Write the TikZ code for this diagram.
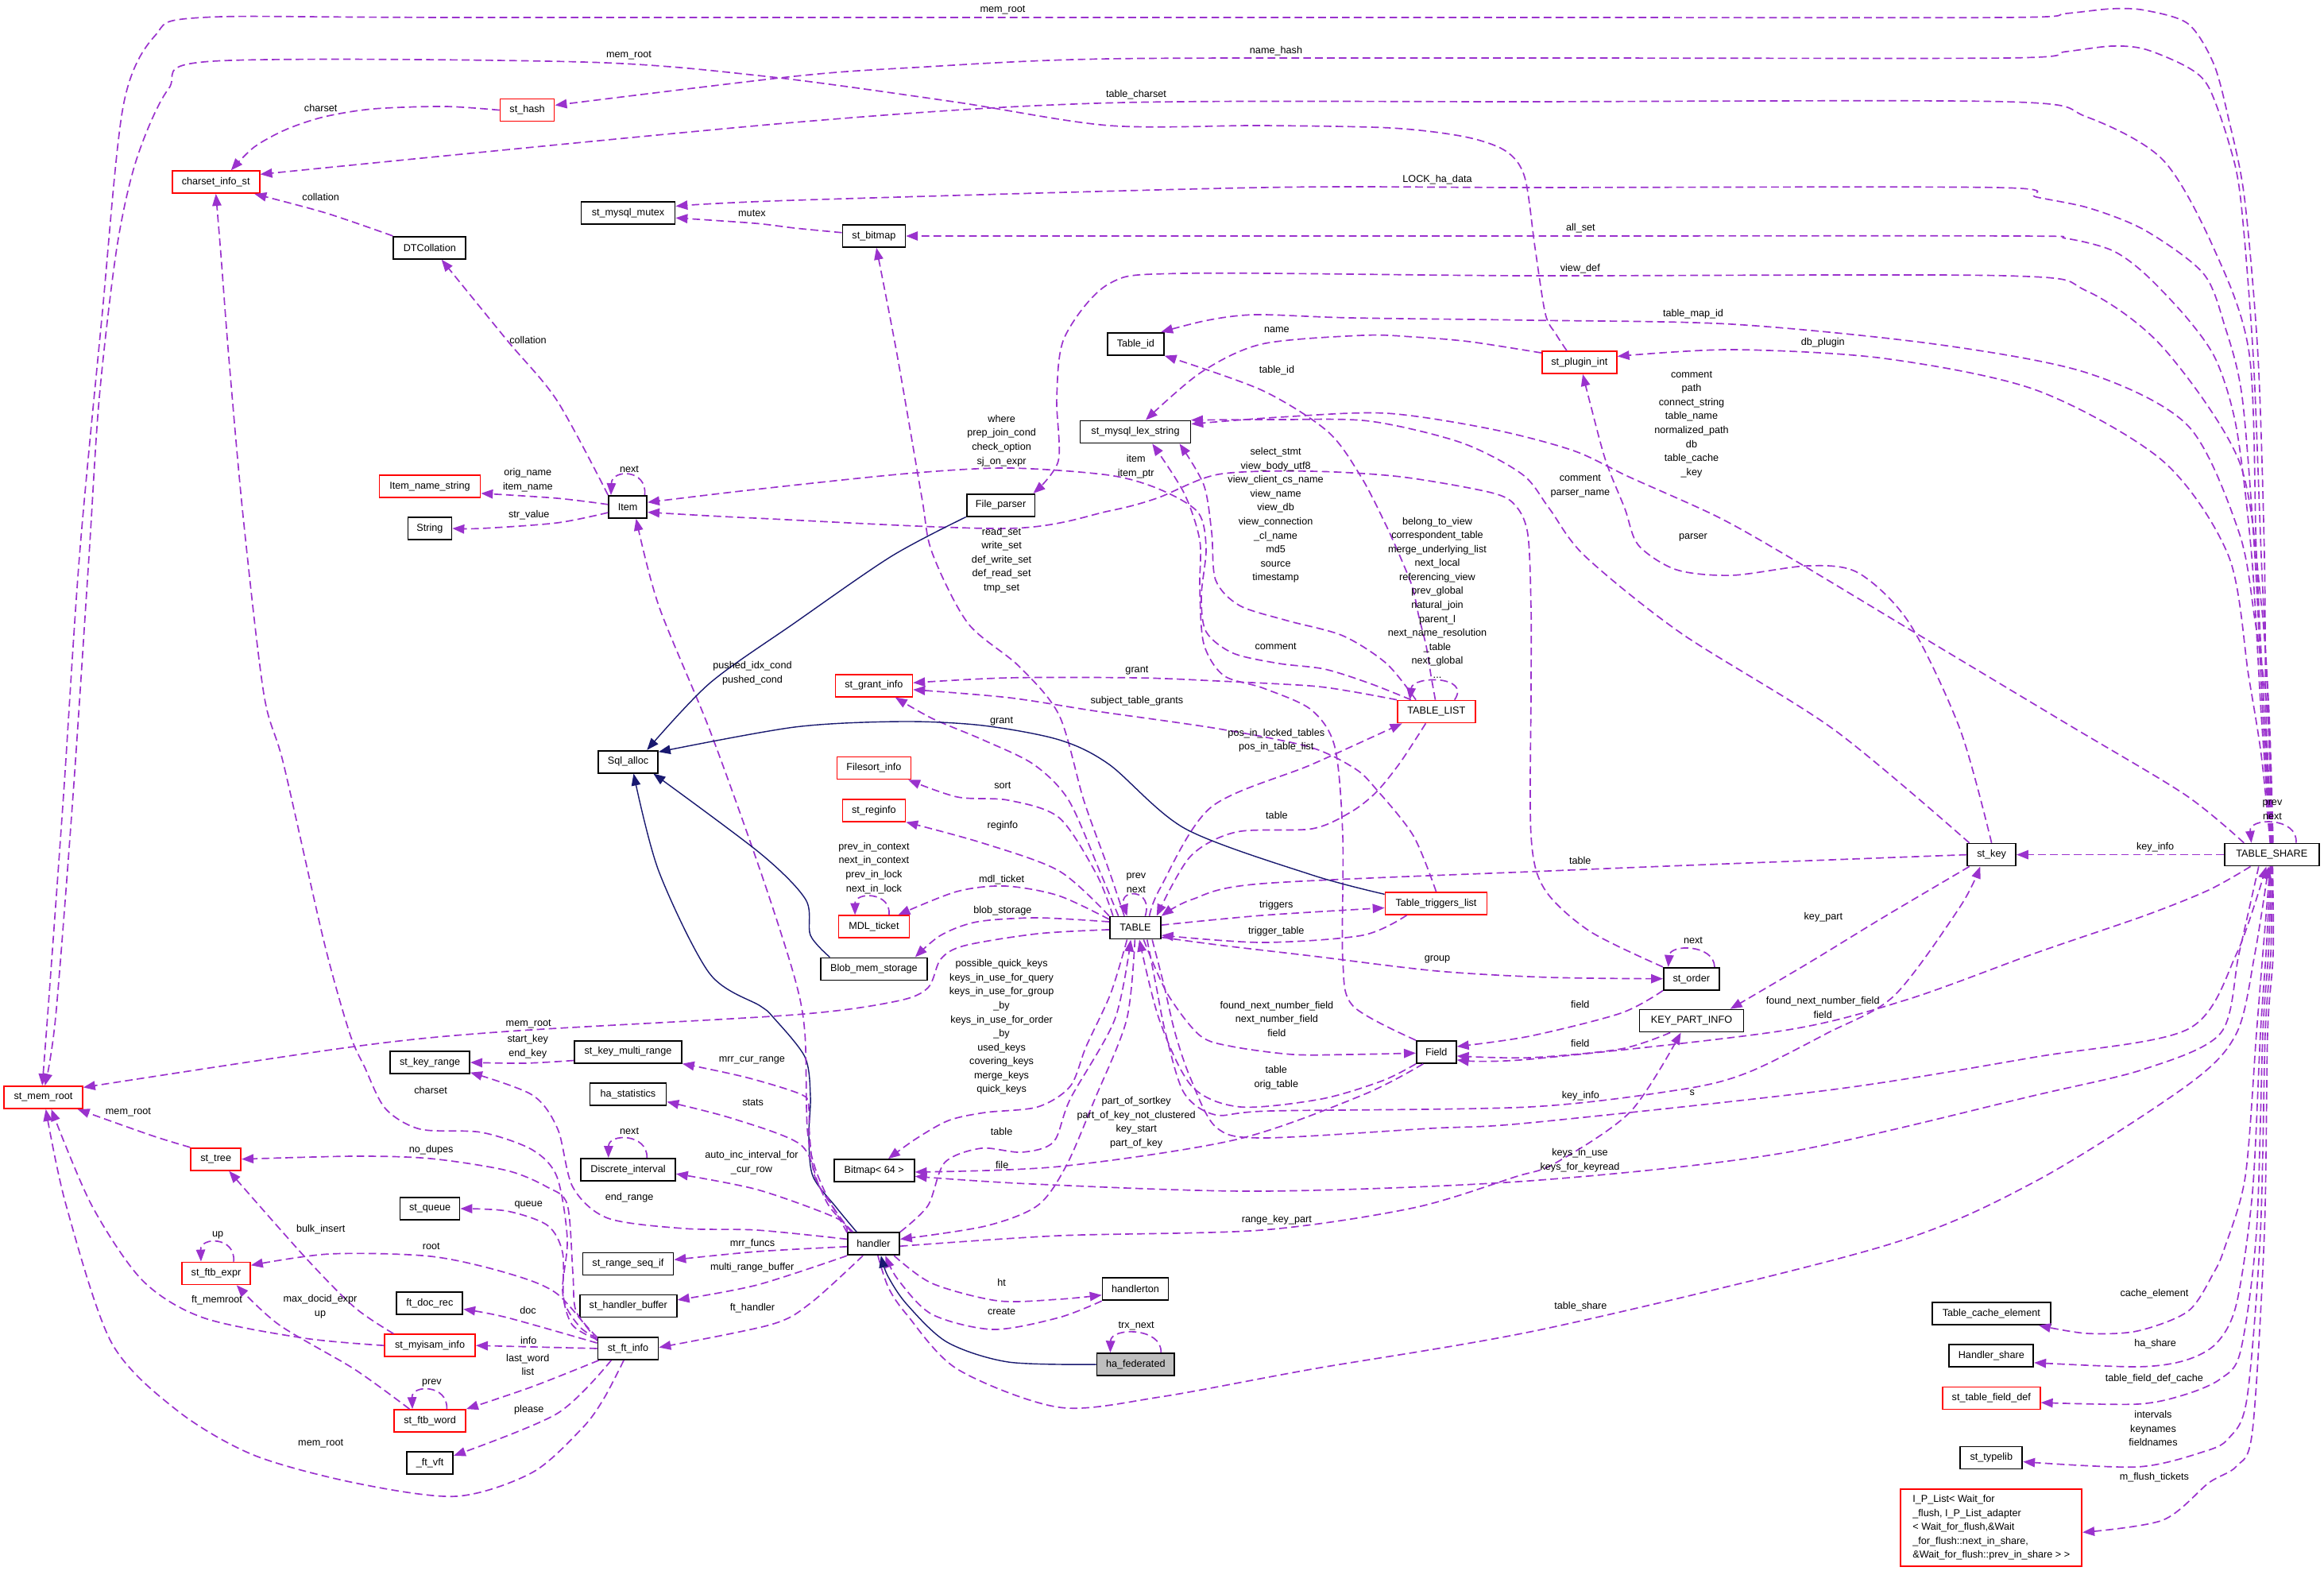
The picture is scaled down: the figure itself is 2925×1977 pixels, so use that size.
\documentclass[tikz,border=0pt]{standalone}
\usepackage{fontspec}
\setmainfont{Liberation Sans}
\usetikzlibrary{arrows.meta}
\definecolor{ep}{HTML}{9A32CD}
\definecolor{nv}{HTML}{191970}
\definecolor{rd}{HTML}{FF0000}
\definecolor{gf}{HTML}{BFBFBF}
\begin{document}
\begin{tikzpicture}[x=0.02cm,y=-0.02cm,font=\fontsize{7.2}{10}\selectfont,
nb/.style={draw=black,line width=1pt,minimum height=0.56cm,inner xsep=2pt,inner ysep=0pt,fill=white},
nr/.style={nb,draw=rd},
lb/.style={inner sep=0pt,align=center},
e/.style={draw=ep,line width=0.95pt,dash pattern=on 5.5pt off 3pt,-{Triangle[length=8.5pt,width=6.5pt]}},
inh/.style={draw=nv,line width=0.8pt,-{Triangle[length=8.5pt,width=6.5pt]}}]
\fill[white] (0,0) rectangle (2925,1977);
\useasboundingbox (0,0) rectangle (2925,1977);
% nodes
\node[nr,minimum width=1.36cm] (hash) at (663.6,138.6) {st\_hash};
\node[nr,minimum width=2.2cm] (charset) at (271.7,229.2) {charset\_info\_st};
\node[nb,minimum width=2.36cm] (mutex) at (790.5,267.9) {st\_mysql\_mutex};
\node[nb,minimum width=1.82cm] (dtc) at (540.8,311.8) {DTCollation};
\node[nb,minimum width=1.58cm] (bitmap) at (1099.9,297) {st\_bitmap};
\node[nb,minimum width=1.42cm] (tid) at (1429.3,432.8) {Table\_id};
\node[nr,minimum width=1.88cm] (plugin) at (1987.8,456) {st\_plugin\_int};
\node[nb,minimum width=2.78cm] (lex) at (1429,543.5) {st\_mysql\_lex\_string};
\node[nr,minimum width=2.54cm] (ins) at (541,611.8) {Item\_name\_string};
\node[nb,minimum width=0.96cm] (item) at (790.2,637.9) {Item};
\node[nb,minimum width=1.1cm] (str) at (541,665) {String};
\node[nb,minimum width=1.72cm] (fparser) at (1259.6,635.7) {File\_parser};
\node[nr,minimum width=1.94cm] (grant) at (1099.9,862.7) {st\_grant\_info};
\node[nr,minimum width=1.96cm] (tlist) at (1807.8,895.5) {TABLE\_LIST};
\node[nb,minimum width=1.5cm] (sqla) at (790.5,958.7) {Sql\_alloc};
\node[nr,minimum width=1.86cm] (fsort) at (1099.9,966.5) {Filesort\_info};
\node[nr,minimum width=1.58cm] (reginfo) at (1099.9,1019.9) {st\_reginfo};
\node[nb,minimum width=1.22cm] (stkey) at (2506.6,1075.6) {st\_key};
\node[nb,minimum width=2.38cm] (tshare) at (2859.3,1075.6) {TABLE\_SHARE};
\node[nr,minimum width=1.78cm] (mdl) at (1099.9,1166.3) {MDL\_ticket};
\node[nb,minimum width=1.28cm] (table) at (1428.9,1167.6) {TABLE};
\node[nr,minimum width=2.56cm] (ttl) at (1807.5,1136.8) {Table\_triggers\_list};
\node[nb,minimum width=2.68cm] (blob) at (1099.9,1219.4) {Blob\_mem\_storage};
\node[nb,minimum width=1.4cm] (order) at (2128.8,1231.7) {st\_order};
\node[nb,minimum width=2.62cm] (kpi) at (2129,1284.6) {KEY\_PART\_INFO};
\node[nb,minimum width=1.0cm] (field) at (1807.8,1323.9) {Field};
\node[nb,minimum width=2.7cm] (kmr) at (790.5,1323.7) {st\_key\_multi\_range};
\node[nb,minimum width=2.0cm] (kr) at (541.1,1337) {st\_key\_range};
\node[nr,minimum width=1.98cm] (memroot) at (54.5,1381) {st\_mem\_root};
\node[nb,minimum width=1.92cm] (hastat) at (790.5,1377) {ha\_statistics};
\node[nr,minimum width=1.26cm] (tree) at (271.7,1458.7) {st\_tree};
\node[nb,minimum width=2.38cm] (dint) at (790.5,1471.9) {Discrete\_interval};
\node[nb,minimum width=2.02cm] (bm64) at (1100.2,1473.1) {Bitmap< 64 >};
\node[nb,minimum width=1.5cm] (queue) at (541.1,1521) {st\_queue};
\node[nb,minimum width=1.3cm] (handler) at (1099.5,1565.3) {handler};
\node[nb,minimum width=2.28cm] (rsi) at (790.5,1590.4) {st\_range\_seq\_if};
\node[nr,minimum width=1.72cm] (ftbexpr) at (272,1602.4) {st\_ftb\_expr};
\node[nb,minimum width=1.66cm] (hton) at (1429,1622.3) {handlerton};
\node[nb,minimum width=1.66cm] (docrec) at (540.8,1640) {ft\_doc\_rec};
\node[nb,minimum width=2.44cm] (hbuf) at (790.8,1643.5) {st\_handler\_buffer};
\node[nr,minimum width=2.28cm] (myisam) at (541.1,1693.2) {st\_myisam\_info};
\node[nb,minimum width=1.52cm] (ftinfo) at (790.5,1697) {st\_ft\_info};
\node[nb,fill=gf,minimum width=1.95cm] (haf) at (1429.3,1717.1) {ha\_federated};
\node[nb,minimum width=2.98cm] (tce) at (2506.3,1653) {Table\_cache\_element};
\node[nb,minimum width=2.12cm] (hsh) at (2506.3,1706.3) {Handler\_share};
\node[nr,minimum width=2.46cm] (tfd) at (2506.3,1759.6) {st\_table\_field\_def};
\node[nr,minimum width=1.8cm] (ftbword) at (541.1,1788) {st\_ftb\_word};
\node[nb,minimum width=1.56cm] (typelib) at (2506.3,1834.6) {st\_typelib};
\node[nb,minimum width=1.16cm] (ftvft) at (541.1,1841) {\_ft\_vft};
\node[nr,minimum width=4.56cm,minimum height=1.94cm,align=left,inner xsep=0.2cm] (iplist) at (2506.3,1922.3) {I\_P\_List< Wait\_for\\\_flush, I\_P\_List\_adapter\\< Wait\_for\_flush,\&Wait\\\_for\_flush::next\_in\_share,\\\&Wait\_for\_flush::prev\_in\_share > >};
% TABLE_SHARE top edges
\draw[e] plot[smooth,tension=0.5] coordinates {(tshare.88) (2852,900) (2850,700) (2842,450) (2825,250) (2805,150) (2786,80) (2754,30) (2700,13) (2658,11) (2600,17) (2524,22) (1925,22) (600,22) (255,22) (195,45) (155,134) (128,402) (100,700) (80,1000) (62,1250) (memroot.95)};
\draw[e] plot[smooth,tension=0.5] coordinates {(plugin.137) (1958,420) (1945,395) (1932,312) (1919,223) (1895,190) (1843,172) (1750,161) (1588,158) (1396,158) (1200,128) (963,96) (733,78) (268,77) (212,112) (172,200) (147,312) (125,500) (112,700) (92,1000) (70,1280) (memroot.82)};
\draw[e] plot[smooth,tension=0.5] coordinates {(tshare.90) (2855,900) (2846,700) (2836,450) (2820,250) (2805,179) (2780,110) (2754,85) (2700,62) (2658,58) (2600,65) (2524,73) (1925,73) (1396,74) (1150,85) (1000,96) (hash.10)};
\draw[e] plot[smooth,tension=0.5] coordinates {(tshare.92) (2850,900) (2840,700) (2831,446) (2786,312) (2722,201) (2626,147) (2524,128) (1925,128) (1396,129.5) (1000,154) (charset.10)};
\draw[e] plot[smooth,tension=0.5] coordinates {(tshare.94) (2848,900) (2838,700) (2822,500) (2800,410) (2773,344) (2700,290) (2630,262) (2563,248) (2512,236) (1925,236) (1588,236) (1000,252) (mutex.8)};
\draw[e] plot[smooth,tension=0.5] coordinates {(tshare.96) (2846,900) (2834,700) (2815,540) (2790,455) (2754,402) (2700,345) (2658,315) (2600,300) (2537,297) (1925,297) (bitmap.east)};
\draw[e] plot[smooth,tension=0.5] coordinates {(tshare.84) (2856,900) (2845,750) (2818,580) (2722,437) (2626,366) (2524,347) (1925,347) (1492,344) (1396,357) (1340,424) (1330,500) (1332,580) (fparser.20)};
\draw[e] plot[smooth,tension=0.5] coordinates {(tshare.86) (2854,900) (2838,780) (2818,670) (2754,536) (2626,469) (2435,433) (2180,408) (1925,403) (1700,400) (1581,396) (1520,403) (tid.25)};
\draw[e] plot[smooth,tension=0.5] coordinates {(tshare.98) (2846,950) (2830,850) (2805,700) (2722,580) (2563,491) (2371,451) (2180,440) (plugin.9)};
\draw[e] plot[smooth,tension=0.5] coordinates {(tshare.157) (2750,1000) (2600,910) (2400,790) (2250,700) (2161,650) (2050,600) (1980,567) (1877,540) (1744,520) (1610,525) (lex.8)};
\draw[e] (tshare.26) .. controls (2893,1028) and (2830,1028) .. (tshare.150);
\draw[e] (tshare.west) -- (stkey.east);
% st_key and plugin
\draw[e] plot[smooth,tension=0.5] coordinates {(stkey.152) (2308,918) (2116,797) (1995,700) (1950,640) (1916,597) (1839,557) (1724,530) (1610,528) (lex.12)};
\draw[e] plot[smooth,tension=0.5] coordinates {(stkey.north) (2467,918) (2403,784) (2339,721) (2276,712) (2180,724) (2110,717) (2062,686) (2045,640) (2021,580) (2002,510) (plugin.-74)};
\draw[e] plot[smooth,tension=0.5] coordinates {(plugin.166) (1850,430) (1779,424) (1715,422) (1588,433) (1511,469) (lex.49)};
\draw[e] plot[smooth,tension=0.5] coordinates {(stkey.-152) (2371,1154) (2276,1212) (kpi.17)};
\draw[e] plot[smooth,tension=0.5] coordinates {(stkey.west) (2200,1086) (1950,1096) (1588,1112) (1500,1132) (table.north east)};
% TABLE_LIST
\draw[e] plot[smooth,tension=0.5] coordinates {(tlist.95) (1801,850) (1795,813) (1786,777) (1778,740) (1765,707) (1744,660) (1713,600) (1671,543) (1588,491) (tid.south east)};
\draw[e] (tlist.33) .. controls (1852,850) and (1778,850) .. (tlist.156);
\draw[e] plot[smooth,tension=0.5] coordinates {(tlist.155) (1724,860) (1667,842) (1610,835) (1552,822) (1518,795) (1512,750) (1518,690) (1508,645) (1460,616) (1396,598) (1269,589) (1141,596) (950,616) (item.13)};
\draw[e] plot[smooth,tension=0.5] coordinates {(tlist.150) (1745,835) (1690,800) (1620,781) (1560,762) (1530,730) (1525,670) (1515,610) (lex.-15)};
\draw[e] plot[smooth,tension=0.5] coordinates {(field.north west) (1703,1266) (1690,1208) (1690,1052) (1680,940) (1650,893) (1590,866) (1540,850) (1515,810) (1510,740) (1510,680) (1490,620) (lex.-35)};
\draw[e] plot[smooth,tension=0.5] coordinates {(tlist.north west) (1700,870) (1648,863) (1533,857) (1431,853) (1269,853) (grant.4)};
\draw[e] plot[smooth,tension=0.5] coordinates {(ttl.north) (1779,1052) (1732,993) (1705,967) (1648,940) (1533,917) (1380,895) (1270,878) (grant.-6)};
\draw[e] plot[smooth,tension=0.5] coordinates {(table.40) (1460,1118) (1524,1016) (1651,962) (tlist.-161)};
\draw[e] plot[smooth,tension=0.5] coordinates {(tlist.-132) (1762,960) (1732,997) (1700,1022) (1651,1043) (1556,1047) (1498,1078) (table.29)};
% TABLE right
\draw[e] plot[smooth,tension=0.5] coordinates {(table.6) (1588,1152) (ttl.185)};
\draw[e] plot[smooth,tension=0.5] coordinates {(ttl.-158) (1715,1177) (1588,1186) (table.-16)};
\draw[e] plot[smooth,tension=0.5] coordinates {(table.-20) (1540,1190) (1651,1203) (1809,1222) (1950,1230) (order.west)};
\draw[e] (order.27) .. controls (2157,1188) and (2102,1188) .. (order.153);
\draw[e] plot[smooth,tension=0.5] coordinates {(order.north west) (2001,1172) (1944,1119) (1927,1052) (1927,867) (1927,767) (1923,673) (1908,637) (1877,620) (1763,600) (1648,593) (1533,597) (1456,627) (1396,643) (1269,665) (950,652) (item.-15)};
\draw[e] plot[smooth,tension=0.5] coordinates {(order.south west) (2040,1275) (1925,1304) (field.15)};
\draw[e] plot[smooth,tension=0.5] coordinates {(kpi.-151) (2040,1320) (1925,1331) (field.-11)};
\draw[e] plot[smooth,tension=0.5] coordinates {(tshare.-151) (2780,1120) (2700,1152) (2563,1199) (2400,1258) (2244,1297) (1925,1333) (field.-21)};
\draw[e] plot[smooth,tension=0.5] coordinates {(table.-55) (1469,1250) (1510,1303) (1551,1317) (1627,1327) (1700,1327) (field.183)};
\draw[e] plot[smooth,tension=0.5] coordinates {(field.-150) (1740,1360) (1663,1383) (1561,1393) (1500,1367) (1459,1283) (table.-71)};
\draw[e] plot[smooth,tension=0.5] coordinates {(field.-138) (1715,1378) (1556,1434) (1333,1468) (bm64.-2)};
\draw[e] plot[smooth,tension=0.5] coordinates {(table.-45) (1455,1240) (1467,1300) (1490,1375) (1530,1403) (1600,1398) (1925,1393) (2116,1371) (2199,1350) (2300,1300) (2384,1253) (2467,1141) (stkey.-134)};
\draw[e] plot[smooth,tension=0.5] coordinates {(table.-35) (1465,1240) (1479,1300) (1498,1356) (1530,1418) (1588,1432) (1800,1420) (1925,1413) (2308,1371) (2563,1330) (2754,1295) (2815,1200) (tshare.-115)};
\draw[e] plot[smooth,tension=0.5] coordinates {(tshare.-138) (2818,1200) (2795,1300) (2700,1345) (2563,1378) (2244,1451) (1925,1486) (1588,1499) (1300,1490) (bm64.-8)};
\draw[e] plot[smooth,tension=0.5] coordinates {(handler.-70) (1118,1620) (1141,1654) (1205,1723) (1333,1771) (1460,1758) (1651,1723) (1950,1671) (2371,1568) (2563,1486) (2754,1365) (2815,1300) (2838,1200) (tshare.-105)};
\draw[e] plot[smooth,tension=0.5] coordinates {(handler.-5) (1333,1555) (1588,1548) (1779,1520) (1907,1481) (1957,1464) (2052,1399) (kpi.-132)};
% TABLE_SHARE bottom right column
\draw[e] plot[smooth,tension=0.5] coordinates {(tshare.-98) (2848,1200) (2840,1300) (2826,1480) (2800,1570) (2786,1602) (2754,1650) (2690,1675) (2626,1678) (tce.-14)};
\draw[e] plot[smooth,tension=0.5] coordinates {(tshare.-95) (2852,1200) (2845,1300) (2835,1500) (2815,1640) (2790,1690) (2750,1712) (2690,1720) (hsh.-9)};
\draw[e] plot[smooth,tension=0.5] coordinates {(tshare.-92) (2855,1200) (2848,1300) (2840,1550) (2820,1700) (2795,1735) (2750,1755) (2690,1767) (tfd.-5)};
\draw[e] plot[smooth,tension=0.5] coordinates {(tshare.-89) (2858,1200) (2851,1300) (2845,1550) (2828,1760) (2805,1810) (2773,1827) (2690,1846) (typelib.-7)};
\draw[e] plot[smooth,tension=0.5] coordinates {(tshare.-86) (2861,1200) (2854,1300) (2850,1550) (2835,1800) (2815,1845) (2780,1866) (2722,1913) (iplist.-3)};
% TABLE left
\draw[e] plot[smooth,tension=0.5] coordinates {(table.133) (1396,1096) (1364,1007) (1333,900) (1282,838) (1218,784) (1173,695) (1160,625) (1129,446) (bitmap.-78)};
\draw[e] plot[smooth,tension=0.5] coordinates {(table.145) (1384,1096) (1345,1007) (1301,962) (1237,931) (1173,904) (grant.-29)};
\draw[e] plot[smooth,tension=0.5] coordinates {(table.152) (1380,1100) (1333,1029) (1269,1007) (1205,1003) (fsort.-19)};
\draw[e] plot[smooth,tension=0.5] coordinates {(table.north west) (1333,1096) (1237,1061) (reginfo.-20)};
\draw[e] plot[smooth,tension=0.5] coordinates {(table.162) (1332,1127) (1265,1115) (1204,1122) (mdl.26)};
\draw[e] (mdl.38) .. controls (1122,1122) and (1076,1122) .. (mdl.148);
\draw[e] plot[smooth,tension=0.5] coordinates {(table.167) (1306,1155) (1230,1160) (1184,1177) (blob.16)};
\draw[e] plot[smooth,tension=0.5] coordinates {(table.184) (1306,1175) (1214,1190) (1184,1207) (1168,1243) (1128,1260) (1000,1277) (638,1298) (446,1317) (memroot.14)};
\draw[e] plot[smooth,tension=0.5] coordinates {(table.-125) (1398,1250) (1367,1317) (1347,1367) (1306,1393) (1240,1400) (1194,1410) (1153,1433) (bm64.40)};
\draw[e] (table.50) .. controls (1452,1118) and (1408,1118) .. (table.125);
% TABLE - handler
\draw[e] plot[smooth,tension=0.5] coordinates {(table.-92) (1418,1283) (1378,1383) (1342,1467) (1306,1517) (1240,1543) (handler.10)};
\draw[e] plot[smooth,tension=0.5] coordinates {(handler.north east) (1168,1517) (1189,1463) (1235,1445) (1286,1450) (1326,1437) (1347,1383) (1403,1283) (table.-111)};
\draw[e] plot[smooth,tension=0.5] coordinates {(handler.-30) (1173,1615) (1256,1637) (1333,1635) (hton.190)};
\draw[e] plot[smooth,tension=0.5] coordinates {(hton.south west) (1333,1658) (1250,1673) (1173,1654) (1130,1610) (handler.-45)};
\draw[inh] plot[smooth,tension=0.5] coordinates {(haf.west) (1269,1714) (1192,1689) (1141,1641) (1117,1605) (handler.-58)};
\draw[e] (haf.25) .. controls (1463,1670) and (1398,1670) .. (haf.155);
% handler left
\draw[inh] plot[smooth,tension=0.5] coordinates {(handler.145) (1053,1520) (1023,1480) (1018,1430) (1020,1380) (1013,1330) (973,1280) (957,1266) (893,1225) (829,1096) (sqla.-65)};
\draw[e] plot[smooth,tension=0.5] coordinates {(handler.152) (1046,1515) (1026,1470) (1016,1420) (1013,1300) (1000,1230) (957,1096) (893,918) (829,762) (item.-55)};
\draw[e] plot[smooth,tension=0.5] coordinates {(handler.157) (1050,1522) (1026,1482) (1019,1430) (1018,1395) (1010,1378) (940,1356) (kmr.south east)};
\draw[e] plot[smooth,tension=0.5] coordinates {(handler.150) (1045,1520) (1030,1490) (1007,1440) (920,1407) (hastat.-11)};
\draw[e] plot[smooth,tension=0.5] coordinates {(handler.north west) (1053,1533) (953,1497) (dint.-5)};
\draw[e] plot[smooth,tension=0.5] coordinates {(handler.170) (953,1548) (861,1546) (765,1533) (721,1494) (702,1421) (670,1378) (kr.-14)};
\draw[e] plot[smooth,tension=0.5] coordinates {(handler.186) (953,1575) (rsi.5)};
\draw[e] plot[smooth,tension=0.5] coordinates {(handler.south west) (953,1617) (hbuf.7)};
\draw[e] plot[smooth,tension=0.5] coordinates {(handler.-132) (1020,1640) (970,1667) (ftinfo.2)};
% Sql_alloc inheritance
\draw[inh] plot[smooth,tension=0.5] coordinates {(fparser.south west) (1122,700) (1000,784) (893,860) (sqla.32)};
\draw[inh] plot[smooth,tension=0.5] coordinates {(ttl.170) (1651,1101) (1492,1043) (1396,962) (1333,931) (1237,913) (1135,908) (1000,915) (sqla.18)};
\draw[inh] plot[smooth,tension=0.5] coordinates {(blob.165) (1020,1177) (1014,1132) (957,1074) (sqla.-25)};
% Item
\draw[e] plot[smooth,tension=0.5] coordinates {(item.north west) (701,504) (638,428) (dtc.-45)};
\draw[e] (item.35) .. controls (815,590) and (770,590) .. (item.145);
\draw[e] plot[smooth,tension=0.5] coordinates {(item.173) (701,627) (ins.-8)};
\draw[e] plot[smooth,tension=0.5] coordinates {(item.196) (701,658) (606,665) (str.east)};
% top-left
\draw[e] plot[smooth,tension=0.5] coordinates {(hash.west) (560,134) (470,137) (408,147) (360,163) (320,185) (charset.38)};
\draw[e] plot[smooth,tension=0.5] coordinates {(dtc.north west) (410,268) (charset.-17)};
\draw[e] plot[smooth,tension=0.5] coordinates {(ftinfo.164) (720,1667) (708,1624) (714,1559) (701,1481) (670,1447) (606,1425) (529,1421) (485,1395) (459,1343) (440,1300) (408,1186) (357,962) (332,873) (306,650) (288,450) (278,320) (charset.south)};
\draw[e] plot[smooth,tension=0.5] coordinates {(bitmap.174) (1000,287) (950,281) (mutex.-6)};
% ft_info group
\draw[e] plot[smooth,tension=0.5] coordinates {(ftinfo.160) (725,1650) (721,1602) (714,1516) (689,1494) (638,1473) (542,1458) (446,1455) (tree.east)};
\draw[e] plot[smooth,tension=0.5] coordinates {(ftinfo.162) (730,1670) (710,1637) (708,1576) (689,1542) (638,1524) (queue.east)};
\draw[e] plot[smooth,tension=0.5] coordinates {(ftinfo.166) (701,1628) (638,1602) (542,1581) (415,1578) (ftbexpr.13)};
\draw[e] plot[smooth,tension=0.5] coordinates {(ftinfo.170) (638,1658) (docrec.-10)};
\draw[e] (ftinfo.west) -- (myisam.east);
\draw[e] plot[smooth,tension=0.5] coordinates {(ftinfo.-158) (670,1745) (ftbword.north east)};
\draw[e] plot[smooth,tension=0.5] coordinates {(ftinfo.-145) (701,1779) (ftvft.17)};
\draw[e] plot[smooth,tension=0.5] coordinates {(ftinfo.-110) (760,1760) (733,1797) (670,1853) (574,1883) (446,1866) (319,1831) (223,1775) (140,1689) (83,1516) (memroot.-78)};
\draw[e] plot[smooth,tension=0.5] coordinates {(myisam.west) (383,1684) (255,1658) (179,1611) (115,1516) (memroot.-56)};
\draw[e] plot[smooth,tension=0.5] coordinates {(myisam.162) (446,1645) (383,1581) (tree.-42)};
\draw[e] plot[smooth,tension=0.5] coordinates {(ftbword.150) (446,1723) (351,1667) (ftbexpr.-30)};
\draw[e] (ftbexpr.34) .. controls (297,1556) and (252,1556) .. (ftbexpr.142);
\draw[e] (ftbword.35) .. controls (564,1742) and (518,1742) .. (ftbword.146);
\draw[e] plot[smooth,tension=0.5] coordinates {(tree.north west) (191,1429) (memroot.-19)};
\draw[e] plot[smooth,tension=0.5] coordinates {(kmr.189) (660,1338) (kr.east)};
\draw[e] (dint.32) .. controls (815,1426) and (766,1426) .. (dint.149);
% labels
\node[lb] (l1) at (1262,12.5) {mem\_root};
\node[lb] (l2) at (791.5,69.2) {mem\_root};
\node[lb] (l3) at (1606,63.8) {name\_hash};
\node[lb] (l4) at (403.7,135.7) {charset};
\node[lb] (l5) at (1430,119.6) {table\_charset};
\node[lb] (l6) at (1809,226.3) {LOCK\_ha\_data};
\node[lb] (l7) at (403.7,247.8) {collation};
\node[lb] (l8) at (946.4,268.7) {mutex};
\node[lb] (l9) at (1989.4,287.5) {all\_set};
\node[lb] (l10) at (1988.8,338.4) {view\_def};
\node[lb] (l11) at (2131,395.5) {table\_map\_id};
\node[lb] (l12) at (1606.9,415) {name};
\node[lb] (l13) at (664.5,427.7) {collation};
\node[lb] (l14) at (2294.3,431.7) {db\_plugin};
\node[lb] (l15) at (1606.9,466.5) {table\_id};
\node[lb] (l16) at (2129,533.9) {comment\\path\\connect\_string\\table\_name\\normalized\_path\\db\\table\_cache\\\_key};
\node[lb] (l17) at (1260.6,554.4) {where\\prep\_join\_cond\\check\_option\\sj\_on\_expr};
\node[lb] (l18) at (1429.7,587) {item\\item\_ptr};
\node[lb] (l19) at (1605.6,648.4) {select\_stmt\\view\_body\_utf8\\view\_client\_cs\_name\\view\_name\\view\_db\\view\_connection\\\_cl\_name\\md5\\source\\timestamp};
\node[lb] (l20) at (792,590.6) {next};
\node[lb] (l21) at (664.3,604.2) {orig\_name\\item\_name};
\node[lb] (l22) at (1988.8,611.5) {comment\\parser\_name};
\node[lb] (l23) at (665.8,648.6) {str\_value};
\node[lb] (l24) at (2131,676.7) {parser};
\node[lb] (l25) at (1260.6,705.1) {read\_set\\write\_set\\def\_write\_set\\def\_read\_set\\tmp\_set};
\node[lb] (l26) at (1809,752.1) {belong\_to\_view\\correspondent\_table\\merge\_underlying\_list\\next\_local\\referencing\_view\\prev\_global\\natural\_join\\parent\_l\\next\_name\_resolution\\\_table\\next\_global\\...};
\node[lb] (l27) at (1605.6,813) {comment};
\node[lb] (l28) at (947,847.3) {pushed\_idx\_cond\\pushed\_cond};
\node[lb] (l29) at (1430.9,844.2) {grant};
\node[lb] (l30) at (1430.9,882.6) {subject\_table\_grants};
\node[lb] (l31) at (1260.6,908) {grant};
\node[lb] (l32) at (1606.3,931.9) {pos\_in\_locked\_tables\\pos\_in\_table\_list};
\node[lb] (l33) at (1261.9,988.8) {sort};
\node[lb] (l34) at (1606.9,1026.3) {table};
\node[lb] (l35) at (1261.9,1039.7) {reginfo};
\node[lb] (l36) at (2860,1019.2) {prev\\next};
\node[lb] (l37) at (2712.6,1066.5) {key\_info};
\node[lb] (l38) at (1988.8,1083) {table};
\node[lb] (l39) at (1099.9,1092.4) {prev\_in\_context\\next\_in\_context\\prev\_in\_lock\\next\_in\_lock};
\node[lb] (l40) at (1429.9,1111.3) {prev\\next};
\node[lb] (l41) at (1260.6,1107.6) {mdl\_ticket};
\node[lb] (l42) at (1606.3,1139.7) {triggers};
\node[lb] (l43) at (1261.9,1146.4) {blob\_storage};
\node[lb] (l44) at (2294.9,1154.4) {key\_part};
\node[lb] (l45) at (1606.3,1172.3) {trigger\_table};
\node[lb] (l46) at (2131,1183.5) {next};
\node[lb] (l47) at (1809,1207.6) {group};
\node[lb] (l48) at (1260.6,1292.6) {possible\_quick\_keys\\keys\_in\_use\_for\_query\\keys\_in\_use\_for\_group\\\_by\\keys\_in\_use\_for\_order\\\_by\\used\_keys\\covering\_keys\\merge\_keys\\quick\_keys};
\node[lb] (l49) at (1988.8,1264.3) {field};
\node[lb] (l50) at (2294.2,1267.8) {found\_next\_number\_field\\field};
\node[lb] (l51) at (1606.9,1282.1) {found\_next\_number\_field\\next\_number\_field\\field};
\node[lb] (l52) at (665.2,1288.8) {mem\_root};
\node[lb] (l53) at (1988.8,1312.5) {field};
\node[lb] (l54) at (664.2,1317.4) {start\_key\\end\_key};
\node[lb] (l55) at (946.4,1334.8) {mrr\_cur\_range};
\node[lb] (l56) at (1606.3,1356.1) {table\\orig\_table};
\node[lb] (l57) at (542.1,1371.7) {charset};
\node[lb] (l58) at (2129.7,1375.1) {s};
\node[lb] (l59) at (1989.4,1379.4) {key\_info};
\node[lb] (l60) at (947.7,1387.7) {stats};
\node[lb] (l61) at (161.4,1399.7) {mem\_root};
\node[lb] (l62) at (1430.2,1412.7) {part\_of\_sortkey\\part\_of\_key\_not\_clustered\\key\_start\\part\_of\_key};
\node[lb] (l63) at (1260.6,1423.5) {table};
\node[lb] (l64) at (792.1,1423.9) {next};
\node[lb] (l65) at (542.7,1447.7) {no\_dupes};
\node[lb] (l66) at (1988.5,1460) {keys\_in\_use\\keys\_for\_keyread};
\node[lb] (l67) at (946,1463.2) {auto\_inc\_interval\_for\\\_cur\_row};
\node[lb] (l68) at (1261.2,1466.2) {file};
\node[lb] (l69) at (792.1,1506.8) {end\_range};
\node[lb] (l70) at (665.2,1515.9) {queue};
\node[lb] (l71) at (1606.9,1534.9) {range\_key\_part};
\node[lb] (l72) at (403.7,1547.4) {bulk\_insert};
\node[lb] (l73) at (274.2,1554.8) {up};
\node[lb] (l74) at (947,1564.7) {mrr\_funcs};
\node[lb] (l75) at (542.7,1568.6) {root};
\node[lb] (l76) at (946.7,1595.6) {multi\_range\_buffer};
\node[lb] (l77) at (1260.6,1614.3) {ht};
\node[lb] (l78) at (2711.4,1627.7) {cache\_element};
\node[lb] (l79) at (403,1644.4) {max\_docid\_expr\\up};
\node[lb] (l80) at (273,1636.4) {ft\_memroot};
\node[lb] (l81) at (1989.4,1643.7) {table\_share};
\node[lb] (l82) at (947,1646.3) {ft\_handler};
\node[lb] (l83) at (664.5,1648.5) {doc};
\node[lb] (l84) at (1260.6,1650.6) {create};
\node[lb] (l85) at (1430.2,1668.8) {trx\_next};
\node[lb] (l86) at (665.2,1686.5) {info};
\node[lb] (l87) at (2712.6,1691.6) {ha\_share};
\node[lb] (l88) at (664.3,1717.4) {last\_word\\list};
\node[lb] (l89) at (2711.4,1734.8) {table\_field\_def\_cache};
\node[lb] (l90) at (543.4,1740) {prev};
\node[lb] (l91) at (665.8,1774.5) {please};
\node[lb] (l92) at (2710,1797.8) {intervals\\keynames\\fieldnames};
\node[lb] (l93) at (403.7,1816.9) {mem\_root};
\node[lb] (l94) at (2711.4,1859.6) {m\_flush\_tickets};
\end{tikzpicture}
\end{document}
